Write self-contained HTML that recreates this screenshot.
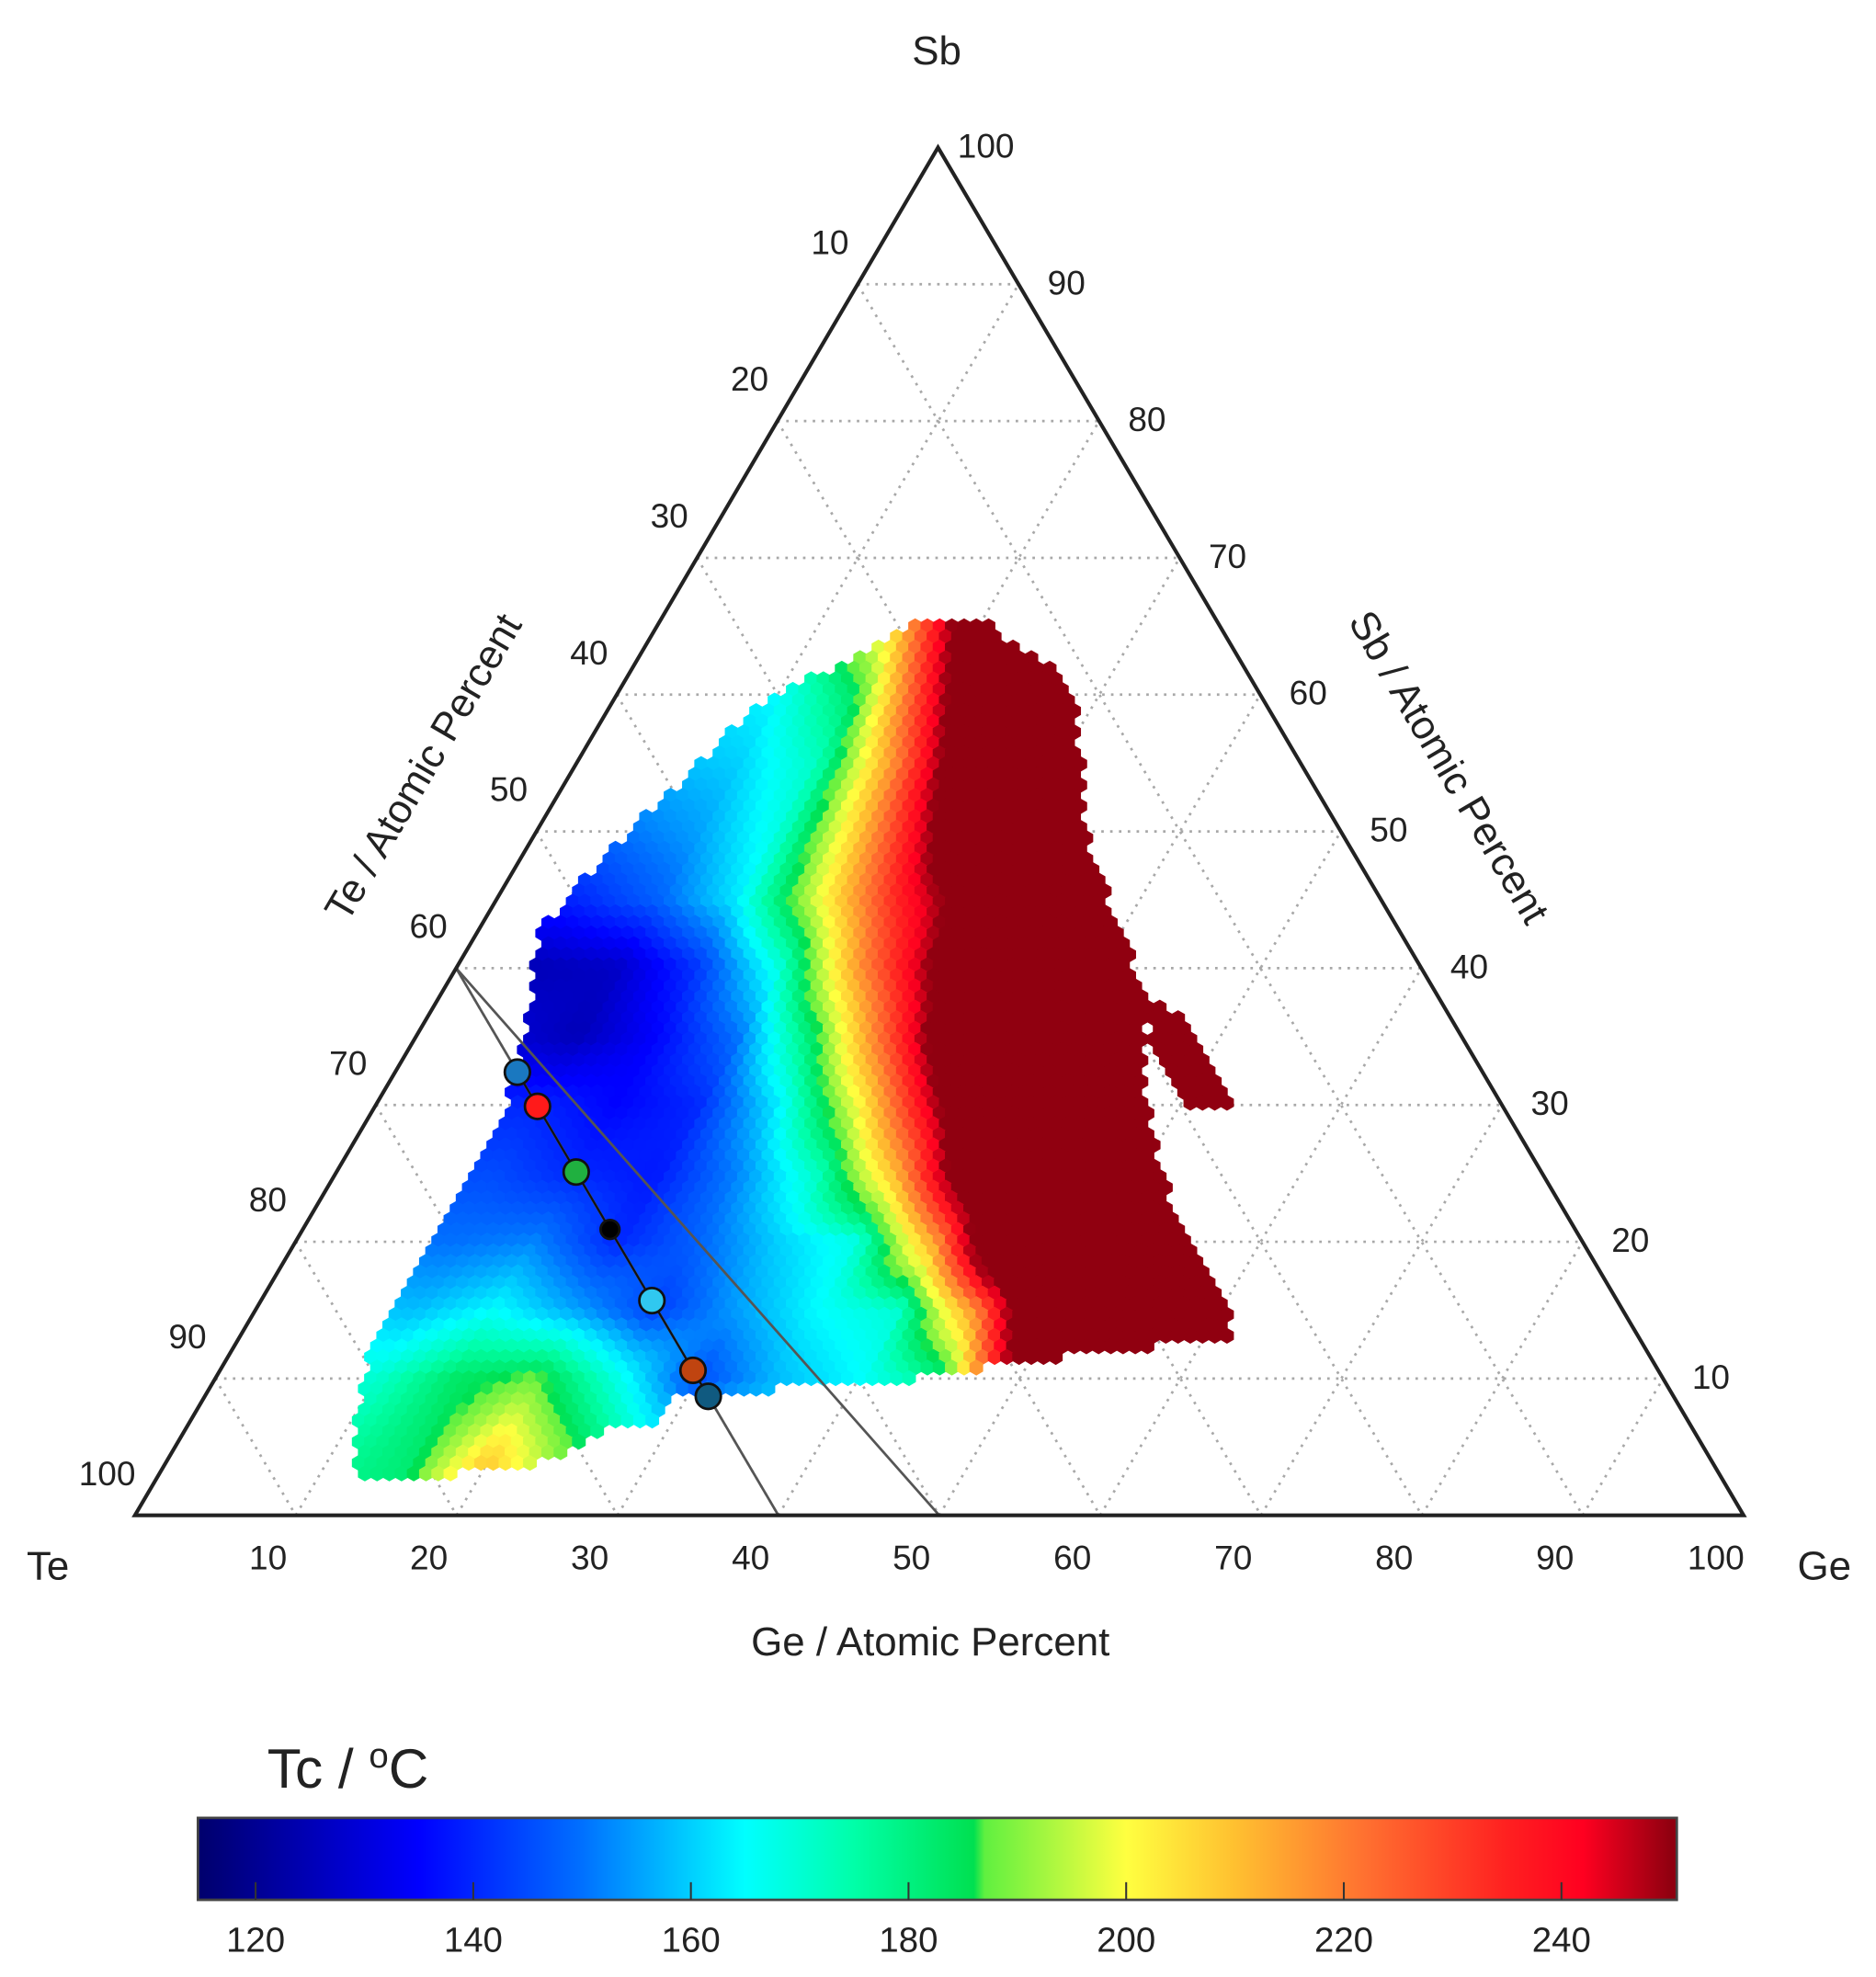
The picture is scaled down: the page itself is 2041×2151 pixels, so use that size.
<!DOCTYPE html>
<html>
<head>
<meta charset="utf-8">
<style>
html,body{margin:0;padding:0;background:#fff;}
svg{display:block;}
text{font-family:"Liberation Sans",Arial,sans-serif;fill:#222;}
</style>
</head>
<body>
<svg id="chart" width="2041" height="2151" viewBox="0 0 1488 1568.2" xmlns="http://www.w3.org/2000/svg">
  <g id="grid"></g>
  <g id="cells"></g>
  <g id="tielines"></g>
  <polygon id="frame" fill="none" stroke="#222" stroke-width="3" stroke-linejoin="miter"></polygon>
  <g id="markers"></g>
  <g id="ticks"></g>

  <text x="743" y="51" font-size="32" text-anchor="middle">Sb</text>
  <text x="38" y="1253" font-size="32" text-anchor="middle">Te</text>
  <text x="1447" y="1253" font-size="32" text-anchor="middle">Ge</text>
  <text x="738" y="1313" font-size="32" text-anchor="middle">Ge / Atomic Percent</text>
  <text x="0" y="0" font-size="32" text-anchor="middle" transform="translate(345,614) rotate(-59.6)">Te / Atomic Percent</text>
  <text x="0" y="0" font-size="32" text-anchor="middle" transform="translate(1140,614) rotate(59.6)">Sb / Atomic Percent</text>

  <defs><linearGradient id="cbgrad" x1="0" x2="1" y1="0" y2="0"></linearGradient></defs>
  <text x="212" y="1418" font-size="44">Tc / <tspan font-size="28" dy="-16">o</tspan><tspan dy="16">C</tspan></text>
  <rect id="cbar" x="157" y="1442" width="1173" height="65" fill="url(#cbgrad)" stroke="#444" stroke-width="2"></rect>
  <g id="cbticks"></g>
</svg>
<script>
// ---- data ----
const gridSteps = [10,20,30,40,50,60,70,80,90];
const tickValues = [10,20,30,40,50,60,70,80,90,100];
// Tc grid: rows = Sb 0..70 step 5, cols = Ge 0..65 step 5 (values above 250 saturate)
const tcSb0  = [180,180,180,180,220,190,170,165,165,170,250,300,300,300];
const tcSb5  = [175,175,175,182,205,185,165,160,165,172,250,300,300,300];
const tcSb10 = [170,170,170,183,188,168,145,158,165,178,260,300,300,300];
const tcSb15 = [160,160,158,165,155,143,155,165,170,220,300,300,300,300];
const tcSb20 = [150,150,150,152,140,148,160,168,218,300,300,300,300,300];
const tcSb25 = [145,145,145,140,138,152,172,213,276,300,300,300,300,300];
const tcSb30 = [140,140,140,135,140,163,200,250,300,300,300,300,300,300];
const tcSb35 = [130,130,125,135,150,185,233,284,300,300,300,300,300,300];
const tcSb40 = [125,125,127,142,168,216,255,290,300,300,300,300,300,300];
const tcSb45 = [140,140,148,163,198,235,262,300,300,300,300,300,300,300];
const tcSb50 = [150,150,155,168,208,253,300,300,300,300,300,300,300,300];
const tcSb55 = [158,158,160,172,220,277,300,300,300,300,300,300,300,300];
const tcSb60 = [160,160,165,184,244,300,300,300,300,300,300,300,300,300];
const tcSb65 = [175,175,175,207,271,300,300,300,300,300,300,300,300,300];
const tcSb70 = [190,190,190,220,300,300,300,300,300,300,300,300,300,300];
// measured region boundary (Ge %, Sb %)
const regionGe = [16.5,20.1,22.5,26.6,29.1,33.0,36.2,42.0,45.2,46.4,53.1,53.3,50.5,45.1,46.4,50.7,54.5,60.6,61.5,53.1,47.2,46.8,37.8,28.9,29.1,25.8,24.5,22.6,17.6,12.5,10.0,8.1,8.7,8.7,7.1,3.8,5.2,7.2,9.1,12.5,14.7];
const regionSb = [65.6,65.4,63.8,61.9,59.2,51.8,47.2,40.3,37.1,37.1,30.6,29.5,29.7,35.7,32.4,26.0,20.9,14.9,13.1,11.7,11.2,10.3,9.6,8.5,6.6,6.2,4.8,3.7,2.9,2.8,7.6,14.0,20.0,27.8,34.3,43.0,48.1,53.6,59.2,61.9,63.8];
// sample markers
const markerGe = [7.6,10.1,14.9,19.1,24.3,29.4,31.3];
const markerSb = [32.4,29.9,25.1,20.9,15.7,10.6,8.7];
const markerColor = ['#1a78c0','#ff1a1a','#20b040','#000000','#30c8f0','#c04410','#105a80'];
// colormap stops
const cmapVal = [115,135,150,165,175,186,187,200,210,222,235,242,250];
const cmapCol = ['#00006e','#0000ff','#0070ff','#00ffff','#00ffa8','#00e050','#60f040','#ffff40','#ffc030','#ff7030','#ff2020','#ff0020','#900010'];
const cbarTicks = [120,140,160,180,200,220,240];

const tcRows = [tcSb0,tcSb5,tcSb10,tcSb15,tcSb20,tcSb25,tcSb30,tcSb35,tcSb40,tcSb45,tcSb50,tcSb55,tcSb60,tcSb65,tcSb70];
const NS='http://www.w3.org/2000/svg';
// ---- axes ----
const TE={x:107,y:1202}, GE={x:1383,y:1202}, SB={x:744,y:117};
function px(ge,sb){return TE.x+ge/100*(GE.x-TE.x)+sb/100*(SB.x-TE.x);}
function py(ge,sb){return TE.y+sb/100*(SB.y-TE.y);}
function el(tag,attrs,parent){const e=document.createElementNS(NS,tag);for(const k in attrs)e.setAttribute(k,attrs[k]);parent.appendChild(e);return e;}

document.getElementById('frame').setAttribute('points',`${TE.x},${TE.y} ${GE.x},${GE.y} ${SB.x},${SB.y}`);

// grid
const grid=document.getElementById('grid');
gridSteps.forEach(v=>{
  const segs=[[[0,v],[100-v,v]],[[v,0],[v,100-v]],[[0,100-v],[100-v,0]]];
  segs.forEach(s=>{
    const l=el('line',{x1:px(s[0][0],s[0][1]),y1:py(s[0][0],s[0][1]),x2:px(s[1][0],s[1][1]),y2:py(s[1][0],s[1][1]),stroke:'#a8a8a8','stroke-width':2,'stroke-dasharray':'2 5'},grid);
    
    
  });
});

// colormap
function hex2rgb(h){return [parseInt(h.substr(1,2),16),parseInt(h.substr(3,2),16),parseInt(h.substr(5,2),16)];}
function cmap(v){
  if(v<=cmapVal[0])return cmapCol[0];
  for(let i=1;i<cmapVal.length;i++){
    if(v<=cmapVal[i]){const t=(v-cmapVal[i-1])/(cmapVal[i]-cmapVal[i-1]);const a=hex2rgb(cmapCol[i-1]),b=hex2rgb(cmapCol[i]);
      return `rgb(${Math.round(a[0]+(b[0]-a[0])*t)},${Math.round(a[1]+(b[1]-a[1])*t)},${Math.round(a[2]+(b[2]-a[2])*t)})`;}
  }
  return cmapCol[cmapCol.length-1];
}
function tcAt(ge,sb){
  let i=Math.max(0,Math.min(tcRows.length-1.001,sb/5)), j=Math.max(0,Math.min(tcSb0.length-1.001,ge/5));
  const i0=Math.floor(i),j0=Math.floor(j),fi=i-i0,fj=j-j0;
  const a=tcRows[i0][j0],b=tcRows[i0][j0+1],c=tcRows[i0+1][j0],d=tcRows[i0+1][j0+1];
  return (a*(1-fj)+b*fj)*(1-fi)+(c*(1-fj)+d*fj)*fi;
}
// region polygon in px
const poly=regionGe.map((g,k)=>[px(g,regionSb[k]),py(g,regionSb[k])]);
function inside(x,y){let c=false;for(let i=0,j=poly.length-1;i<poly.length;j=i++){const [xi,yi]=poly[i],[xj,yj]=poly[j];
  if(((yi>y)!=(yj>y))&&(x<(xj-xi)*(y-yi)/(yj-yi)+xi))c=!c;}return c;}
const cells=document.getElementById('cells');
const R=5.6, hw=Math.sqrt(3)*R, vs=1.5*R;
let row=0;
for(let y=480;y<1185;y+=vs,row++){
  for(let x=270+(row%2?hw/2:0);x<1000;x+=hw){
    if(!inside(x,y))continue;
    const sb=(TE.y-y)/(TE.y-SB.y)*100;
    const ge=(x-TE.x-sb/100*(SB.x-TE.x))/(GE.x-TE.x)*100;
    const r=R+0.7;
    const pts=[];for(let k=0;k<6;k++){const a=Math.PI/180*(60*k-90);pts.push((x+r*Math.cos(a)).toFixed(1)+','+(y+r*Math.sin(a)).toFixed(1));}
    const h=el('polygon',{points:pts.join(' '),fill:cmap(tcAt(ge,sb))},cells);
    
    
  }
}

// tie lines
const tl=document.getElementById('tielines');
[[50],[40]].forEach(g=>{
  const l=el('line',{x1:px(0,40),y1:py(0,40),x2:px(g[0],0),y2:py(g[0],0),stroke:'#555','stroke-width':2},tl);
  
  
});
const mk=document.getElementById('markers');
const ml=el('polyline',{points:markerGe.map((g,k)=>px(g,markerSb[k])+','+py(g,markerSb[k])).join(' '),fill:'none',stroke:'#111','stroke-width':1.6},mk);


markerGe.forEach((g,k)=>{
  const c=el('circle',{cx:px(g,markerSb[k]),cy:py(g,markerSb[k]),r:markerColor[k]==='#000000'?7.5:10,fill:markerColor[k],stroke:'#111','stroke-width':2},mk);
  
  
});

// tick labels
const tk=document.getElementById('ticks');
tickValues.forEach(v=>{
  let t=el('text',{x:px(v,0)-22,y:py(v,0)+43,'font-size':27,'text-anchor':'middle'},tk);t.textContent=v;
  
  
  t=el('text',{x:px(100-v,v)+38,y:py(100-v,v)+8,'font-size':27,'text-anchor':'middle'},tk);t.textContent=v;
  
  
  t=el('text',{x:px(0,100-v)-22,y:py(0,100-v)-24,'font-size':27,'text-anchor':'middle'},tk);t.textContent=v;
  
  
});

// colorbar
const grad=document.getElementById('cbgrad');
const vmin=114.7,vmax=250.6;
cmapVal.forEach((v,k)=>{el('stop',{offset:((v-vmin)/(vmax-vmin)).toFixed(4),'stop-color':cmapCol[k]},grad);});
const cbt=document.getElementById('cbticks');
function cbx(v){return 157+(v-vmin)/(vmax-vmin)*1173;}
cbarTicks.forEach(v=>{
  const l=el('line',{x1:cbx(v),x2:cbx(v),y1:1493,y2:1507,stroke:'#333','stroke-width':1.5},cbt);
  
  
  const t=el('text',{x:cbx(v),y:1548,'font-size':28,'text-anchor':'middle'},cbt);t.textContent=v;
  
  
});
</script>
</body>
</html>
